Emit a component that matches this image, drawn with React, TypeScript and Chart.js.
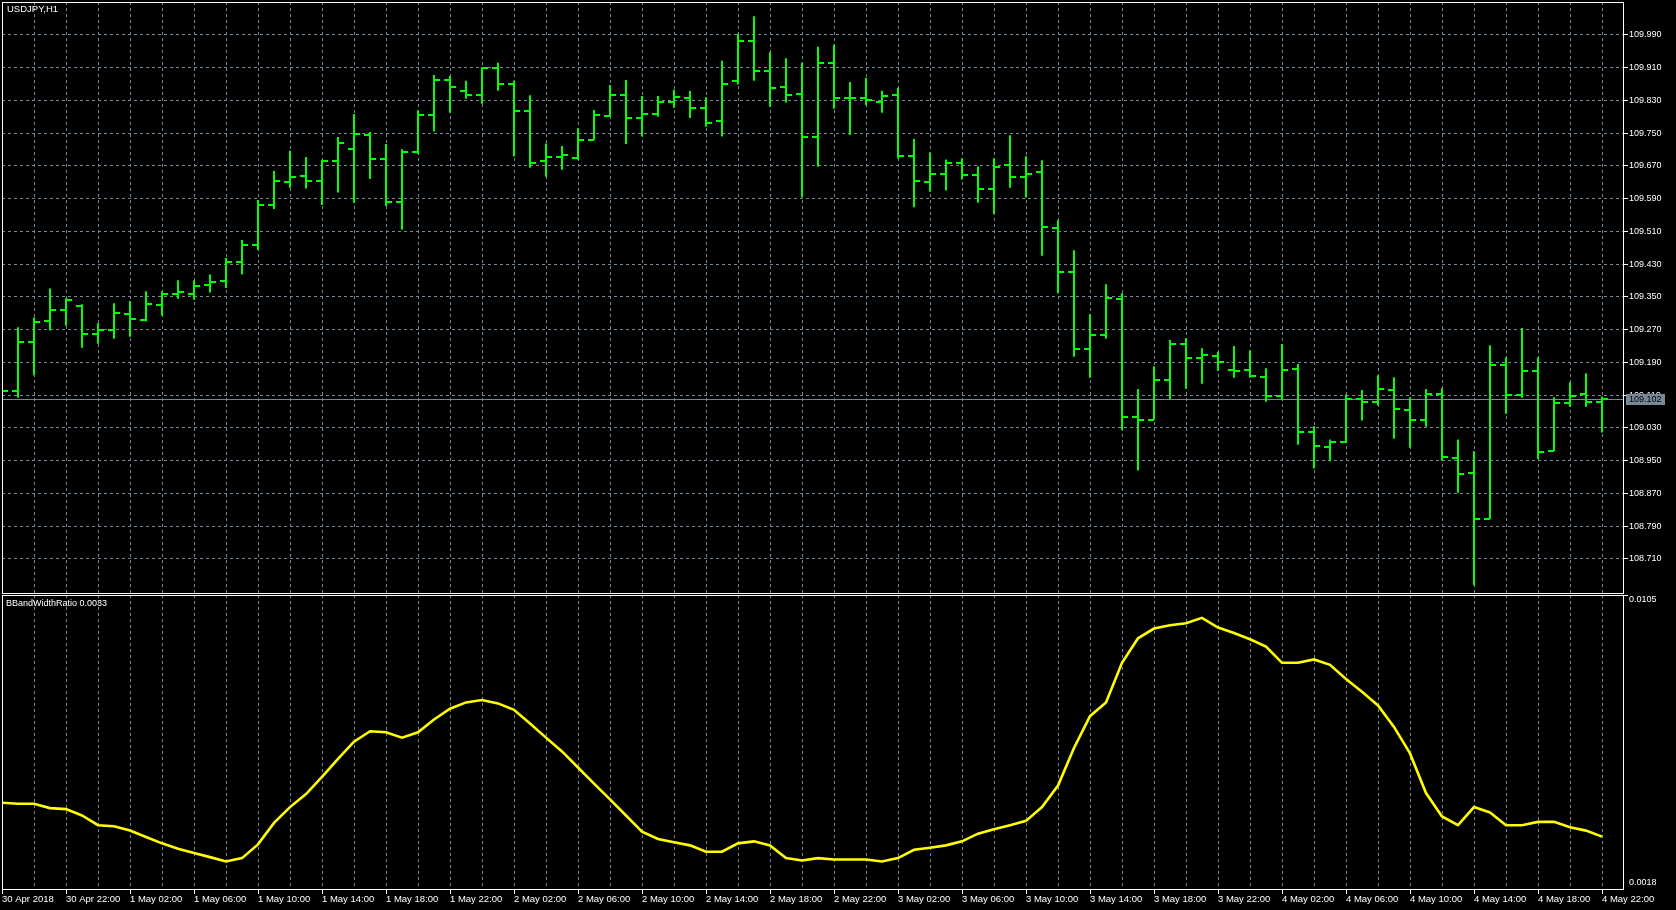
import React, { useEffect, useRef } from 'react';
import { Chart, registerables } from 'chart.js';

Chart.register(...registerables);

// ---------------- data ----------------
const symbolTitle = 'USDJPY,H1';
const indicatorName = 'BBandWidthRatio';

// one label every 4 hourly bars, first bar = 30 Apr 2018 18:00
const timeLabels = [
  '30 Apr 2018', '30 Apr 22:00',
  '1 May 02:00', '1 May 06:00', '1 May 10:00', '1 May 14:00', '1 May 18:00', '1 May 22:00',
  '2 May 02:00', '2 May 06:00', '2 May 10:00', '2 May 14:00', '2 May 18:00', '2 May 22:00',
  '3 May 02:00', '3 May 06:00', '3 May 10:00', '3 May 14:00', '3 May 18:00', '3 May 22:00',
  '4 May 02:00', '4 May 06:00', '4 May 10:00', '4 May 14:00', '4 May 18:00', '4 May 22:00',
];

const priceTicks = [
  108.71, 108.79, 108.87, 108.95, 109.03, 109.11, 109.19, 109.27, 109.35,
  109.43, 109.51, 109.59, 109.67, 109.75, 109.83, 109.91, 109.99,
];

const indicatorTickLabels = ['0.0105', '0.0018'];

const bidPrice = 109.102;

const opens = [
  109.121, 109.121, 109.241, 109.292, 109.317, 109.329, 109.260, 109.269, 109.309, 109.295,
  109.331, 109.358, 109.358, 109.380, 109.390, 109.436, 109.477, 109.575, 109.631, 109.646,
  109.633, 109.682, 109.712, 109.746, 109.687, 109.583, 109.705, 109.795, 109.880, 109.852,
  109.844, 109.910, 109.870, 109.805, 109.682, 109.693, 109.690, 109.734, 109.792, 109.844,
  109.787, 109.797, 109.827, 109.837, 109.812, 109.781, 109.878, 109.976, 109.902, 109.864,
  109.847, 109.742, 109.922, 109.837, 109.837, 109.827, 109.844, 109.695, 109.632, 109.651,
  109.678, 109.649, 109.615, 109.673, 109.644, 109.656, 109.519, 109.412, 109.224, 109.258,
  109.346, 109.058, 109.050, 109.148, 109.234, 109.202, 109.207, 109.172, 109.172, 109.155,
  109.107, 109.174, 109.020, 108.984, 108.996, 109.102, 109.094, 109.123, 109.075, 109.050,
  109.113, 108.957, 108.921, 108.808, 109.185, 109.111, 109.168, 108.975, 109.092, 109.114,
  109.094,
];

const highs = [
  109.135, 109.276, 109.300, 109.371, 109.347, 109.332, 109.286, 109.335, 109.340, 109.364,
  109.364, 109.391, 109.391, 109.405, 109.445, 109.489, 109.587, 109.658, 109.707, 109.692,
  109.685, 109.741, 109.797, 109.753, 109.724, 109.711, 109.806, 109.892, 109.890, 109.878,
  109.912, 109.922, 109.878, 109.843, 109.725, 109.719, 109.762, 109.807, 109.868, 109.880,
  109.841, 109.841, 109.856, 109.853, 109.838, 109.927, 109.993, 110.036, 109.948, 109.933,
  109.922, 109.961, 109.966, 109.875, 109.885, 109.854, 109.861, 109.736, 109.703, 109.686,
  109.689, 109.669, 109.689, 109.745, 109.694, 109.684, 109.538, 109.464, 109.308, 109.381,
  109.359, 109.125, 109.181, 109.245, 109.249, 109.225, 109.216, 109.230, 109.220, 109.176,
  109.235, 109.186, 109.034, 109.002, 109.112, 109.123, 109.159, 109.154, 109.105, 109.125,
  109.127, 109.002, 108.973, 109.232, 109.203, 109.274, 109.203, 109.105, 109.142, 109.164,
  109.107,
];

const lows = [
  109.108, 109.104, 109.159, 109.268, 109.280, 109.226, 109.236, 109.248, 109.253, 109.290,
  109.304, 109.346, 109.343, 109.361, 109.372, 109.405, 109.465, 109.565, 109.617, 109.615,
  109.575, 109.605, 109.580, 109.638, 109.572, 109.514, 109.699, 109.754, 109.800, 109.834,
  109.822, 109.854, 109.693, 109.666, 109.644, 109.661, 109.685, 109.734, 109.790, 109.724,
  109.742, 109.790, 109.812, 109.787, 109.766, 109.742, 109.869, 109.878, 109.815, 109.825,
  109.593, 109.668, 109.810, 109.746, 109.819, 109.800, 109.688, 109.569, 109.607, 109.610,
  109.637, 109.580, 109.553, 109.617, 109.593, 109.451, 109.359, 109.204, 109.153, 109.248,
  109.025, 108.926, 109.050, 109.101, 109.126, 109.138, 109.170, 109.153, 109.153, 109.094,
  109.098, 108.989, 108.931, 108.949, 108.994, 109.048, 109.085, 109.004, 108.982, 109.033,
  108.950, 108.872, 108.646, 108.808, 109.065, 109.104, 108.954, 108.974, 109.082, 109.082,
  109.019,
];

const closes = [
  109.121, 109.240, 109.290, 109.319, 109.343, 109.260, 109.269, 109.312, 109.297, 109.334,
  109.358, 109.361, 109.378, 109.387, 109.436, 109.477, 109.575, 109.634, 109.644, 109.633,
  109.683, 109.727, 109.749, 109.687, 109.583, 109.705, 109.795, 109.880, 109.864, 109.844,
  109.910, 109.870, 109.805, 109.678, 109.693, 109.698, 109.734, 109.795, 109.844, 109.787,
  109.797, 109.827, 109.839, 109.812, 109.775, 109.870, 109.976, 109.902, 109.861, 109.844,
  109.742, 109.922, 109.837, 109.837, 109.832, 109.842, 109.694, 109.634, 109.651, 109.677,
  109.649, 109.615, 109.668, 109.644, 109.651, 109.522, 109.412, 109.224, 109.258, 109.347,
  109.058, 109.050, 109.148, 109.236, 109.202, 109.209, 109.190, 109.170, 109.158, 109.107,
  109.172, 109.020, 108.986, 108.996, 109.102, 109.094, 109.125, 109.077, 109.050, 109.113,
  108.960, 108.918, 108.808, 109.185, 109.111, 109.168, 108.972, 109.092, 109.107, 109.094,
  109.102,
];

const bbWidthRatio = [
  0.00431, 0.00428, 0.00428, 0.00415, 0.00412, 0.00393, 0.00364, 0.00361, 0.00348, 0.00329,
  0.00310, 0.00294, 0.00281, 0.00269, 0.00256, 0.00266, 0.00307, 0.00371, 0.00418, 0.00457,
  0.00508, 0.00562, 0.00613, 0.00644, 0.00641, 0.00625, 0.00641, 0.00679, 0.00711, 0.00730,
  0.00737, 0.00727, 0.00708, 0.00667, 0.00625, 0.00584, 0.00536, 0.00488, 0.00441, 0.00393,
  0.00345, 0.00323, 0.00313, 0.00304, 0.00285, 0.00285, 0.00310, 0.00316, 0.00304, 0.00266,
  0.00259, 0.00266, 0.00262, 0.00262, 0.00262, 0.00256, 0.00266, 0.00291, 0.00297, 0.00304,
  0.00316, 0.00339, 0.00352, 0.00364, 0.00377, 0.00418, 0.00482, 0.00594, 0.00689, 0.00730,
  0.00848, 0.00921, 0.00950, 0.00960, 0.00966, 0.00982, 0.00953, 0.00937, 0.00918, 0.00896,
  0.00848, 0.00848, 0.00858, 0.00842, 0.00800, 0.00762, 0.00721, 0.00657, 0.00578, 0.00460,
  0.00390, 0.00364, 0.00418, 0.00402, 0.00364, 0.00364, 0.00374, 0.00374, 0.00358, 0.00348,
  0.0033,
];

// ---------------- view settings ----------------
const FONT = "'Liberation Sans', Arial, sans-serif";
const GRID = '#778899';
const BAR_GREEN = '#00FF00';
const LINE_YELLOW = '#FFFF00';
const W = 1676;
const H = 910;
const MAIN_H = 594;
const SUB_TOP = 594;
const SUB_H = H - SUB_TOP;
const AXIS_W = 53;
const VISIBLE_BARS = 101.3125;
const PRICE_MIN = 108.6269;
const PRICE_MAX = 110.0706;
const IND_MIN = 0.00174;
const IND_MAX = 0.0105;
const DASH = [3, 3];

function tickImage(side: 'left' | 'right') {
  const c = document.createElement('canvas');
  c.width = 12;
  c.height = 2;
  const g = c.getContext('2d')!;
  g.fillStyle = BAR_GREEN;
  g.fillRect(side === 'left' ? 0 : 6, 0, 6, 2);
  return c;
}

const zeroPad = (s: any) => {
  s.paddingTop = 0;
  s.paddingBottom = 0;
  s.paddingLeft = 0;
  s.paddingRight = 0;
};

function framePlugin(label: () => string, dx: number, dy: number, size: number) {
  return {
    id: 'frame',
    afterDraw(chart: any) {
      const { ctx, chartArea: a } = chart;
      ctx.save();
      ctx.setLineDash([]);
      ctx.strokeStyle = '#ffffff';
      ctx.lineWidth = 1;
      ctx.strokeRect(a.left + 0.5, a.top + 0.5, a.right - a.left, a.bottom - a.top);
      ctx.fillStyle = '#ffffff';
      ctx.font = `${size}px ${FONT}`;
      ctx.textBaseline = 'middle';
      ctx.textAlign = 'left';
      ctx.fillText(label(), a.left + dx, a.top + dy);
      ctx.restore();
    },
  };
}

const bidPlugin = {
  id: 'bid',
  beforeDatasetsDraw(chart: any) {
    const { ctx, chartArea: a } = chart;
    const y = Math.round(chart.scales.y.getPixelForValue(bidPrice)) + 0.5;
    ctx.save();
    ctx.strokeStyle = GRID;
    ctx.lineWidth = 1;
    ctx.beginPath();
    ctx.moveTo(a.left, y);
    ctx.lineTo(a.right, y);
    ctx.stroke();
    ctx.restore();
  },
  afterDraw(chart: any) {
    const { ctx, chartArea: a } = chart;
    const y = Math.round(chart.scales.y.getPixelForValue(bidPrice));
    ctx.save();
    ctx.fillStyle = GRID;
    ctx.fillRect(a.right + 3, y - 5, 39, 11);
    ctx.fillStyle = '#000000';
    ctx.font = `9px ${FONT}`;
    ctx.textBaseline = 'middle';
    ctx.textAlign = 'left';
    ctx.fillText(bidPrice.toFixed(3), a.right + 6, y + 0.5);
    ctx.restore();
  },
};

const indicatorAxisPlugin = {
  id: 'indAxis',
  afterDraw(chart: any) {
    const { ctx, chartArea: a } = chart;
    ctx.save();
    ctx.strokeStyle = '#ffffff';
    ctx.lineWidth = 1;
    ctx.beginPath();
    ctx.moveTo(a.right, a.top + 0.5);
    ctx.lineTo(a.right + 5, a.top + 0.5);
    ctx.stroke();
    ctx.fillStyle = '#ffffff';
    ctx.font = `9px ${FONT}`;
    ctx.textBaseline = 'middle';
    ctx.textAlign = 'left';
    ctx.fillText(indicatorTickLabels[0], a.right + 6, a.top + 4.5);
    ctx.fillText(indicatorTickLabels[1], a.right + 6, a.bottom - 6);
    ctx.restore();
  },
};

export default function App() {
  const mainRef = useRef<HTMLCanvasElement>(null);
  const subRef = useRef<HTMLCanvasElement>(null);

  useEffect(() => {
    document.body.style.margin = '0';
    document.body.style.background = '#000';

    const idx = opens.map((_, i) => i);
    const gridIdx = idx.filter((i) => i % 2 === 0);
    const openImg = tickImage('left');
    const closeImg = tickImage('right');

    const xBase = {
      type: 'linear' as const,
      min: 0,
      max: VISIBLE_BARS,
      offset: false,
      afterBuildTicks: (s: any) => {
        s.ticks = gridIdx.map((v) => ({ value: v }));
      },
    };

    const main = new Chart(mainRef.current!, {
      type: 'bar',
      data: {
        datasets: [
          {
            type: 'line',
            data: idx.map((i) => ({ x: i, y: opens[i] })),
            showLine: false,
            pointStyle: openImg as any,
            pointRadius: 6,
          },
          {
            type: 'line',
            data: idx.map((i) => ({ x: i, y: closes[i] })),
            showLine: false,
            pointStyle: closeImg as any,
            pointRadius: 6,
          },
          {
            type: 'bar',
            data: idx.map((i) => ({ x: i, y: [lows[i], highs[i]] })) as any,
            backgroundColor: BAR_GREEN,
            borderWidth: 0,
            barThickness: 2,
            inflateAmount: 0,
          } as any,
        ],
      },
      options: {
        responsive: false,
        animation: false,
        devicePixelRatio: 1,
        events: [],
        layout: { autoPadding: false, padding: { left: 2, top: 2, right: 0, bottom: 1 } },
        plugins: { legend: { display: false }, tooltip: { enabled: false } },
        scales: {
          x: {
            ...xBase,
            afterFit: (s: any) => {
              s.height = 0;
              zeroPad(s);
            },
            ticks: { display: false },
            grid: { display: true, color: GRID, lineWidth: 1, drawTicks: false, offset: false },
            border: { display: false, dash: DASH },
          } as any,
          y: {
            type: 'linear',
            position: 'right',
            min: PRICE_MIN,
            max: PRICE_MAX,
            afterBuildTicks: (s: any) => {
              s.ticks = priceTicks.map((v) => ({ value: v }));
            },
            afterFit: (s: any) => {
              s.width = AXIS_W;
              zeroPad(s);
            },
            ticks: {
              color: '#ffffff',
              font: { family: FONT, size: 9 },
              padding: 1,
              autoSkip: false,
              callback: (v: any) => Number(v).toFixed(3),
            },
            grid: {
              color: GRID,
              lineWidth: 1,
              drawTicks: true,
              tickLength: 5,
              tickColor: '#ffffff',
              tickBorderDash: [],
            },
            border: { display: false, dash: DASH },
          } as any,
        },
      },
      plugins: [bidPlugin, framePlugin(() => symbolTitle, 5, 7.5, 9.5)],
    });

    const sub = new Chart(subRef.current!, {
      type: 'line',
      data: {
        datasets: [
          {
            data: idx.map((i) => ({ x: i, y: bbWidthRatio[i] })),
            borderColor: LINE_YELLOW,
            borderWidth: 2.6,
            pointRadius: 0,
            tension: 0,
            fill: false,
          },
        ],
      },
      options: {
        responsive: false,
        animation: false,
        devicePixelRatio: 1,
        events: [],
        layout: { autoPadding: false, padding: { left: 2, top: 1, right: 0, bottom: 0 } },
        plugins: { legend: { display: false }, tooltip: { enabled: false } },
        scales: {
          x: {
            ...xBase,
            afterFit: (s: any) => {
              s.height = 21;
              zeroPad(s);
            },
            ticks: {
              color: '#ffffff',
              font: { family: FONT, size: 9.5 },
              align: 'start',
              maxRotation: 0,
              minRotation: 0,
              autoSkip: false,
              padding: 0,
              callback: (v: any) => {
                const i = Number(v);
                return i % 4 === 0 ? timeLabels[i / 4] : '';
              },
            },
            grid: {
              display: true,
              color: GRID,
              lineWidth: 1,
              drawTicks: true,
              tickLength: 5,
              tickColor: (c: any) => (c.tick && c.tick.value % 4 === 0 ? '#ffffff' : 'rgba(0,0,0,0)'),
              tickBorderDash: [],
              offset: false,
            },
            border: { display: false, dash: DASH },
          } as any,
          y: {
            type: 'linear',
            position: 'right',
            min: IND_MIN,
            max: IND_MAX,
            afterFit: (s: any) => {
              s.width = AXIS_W;
              zeroPad(s);
            },
            ticks: { display: false },
            grid: { display: false },
            border: { display: false },
          } as any,
        },
      },
      plugins: [
        indicatorAxisPlugin,
        framePlugin(
          () => `${indicatorName} ${bbWidthRatio[bbWidthRatio.length - 1].toFixed(4)}`,
          4,
          9,
          9,
        ),
      ],
    });

    return () => {
      main.destroy();
      sub.destroy();
    };
  }, []);

  return (
    <div style={{ position: 'relative', width: W, height: H, background: '#000', overflow: 'hidden' }}>
      <canvas
        ref={mainRef}
        width={W}
        height={MAIN_H}
        style={{ position: 'absolute', left: 0, top: 0, width: W, height: MAIN_H }}
      />
      <canvas
        ref={subRef}
        width={W}
        height={SUB_H}
        style={{ position: 'absolute', left: 0, top: SUB_TOP, width: W, height: SUB_H }}
      />
    </div>
  );
}
